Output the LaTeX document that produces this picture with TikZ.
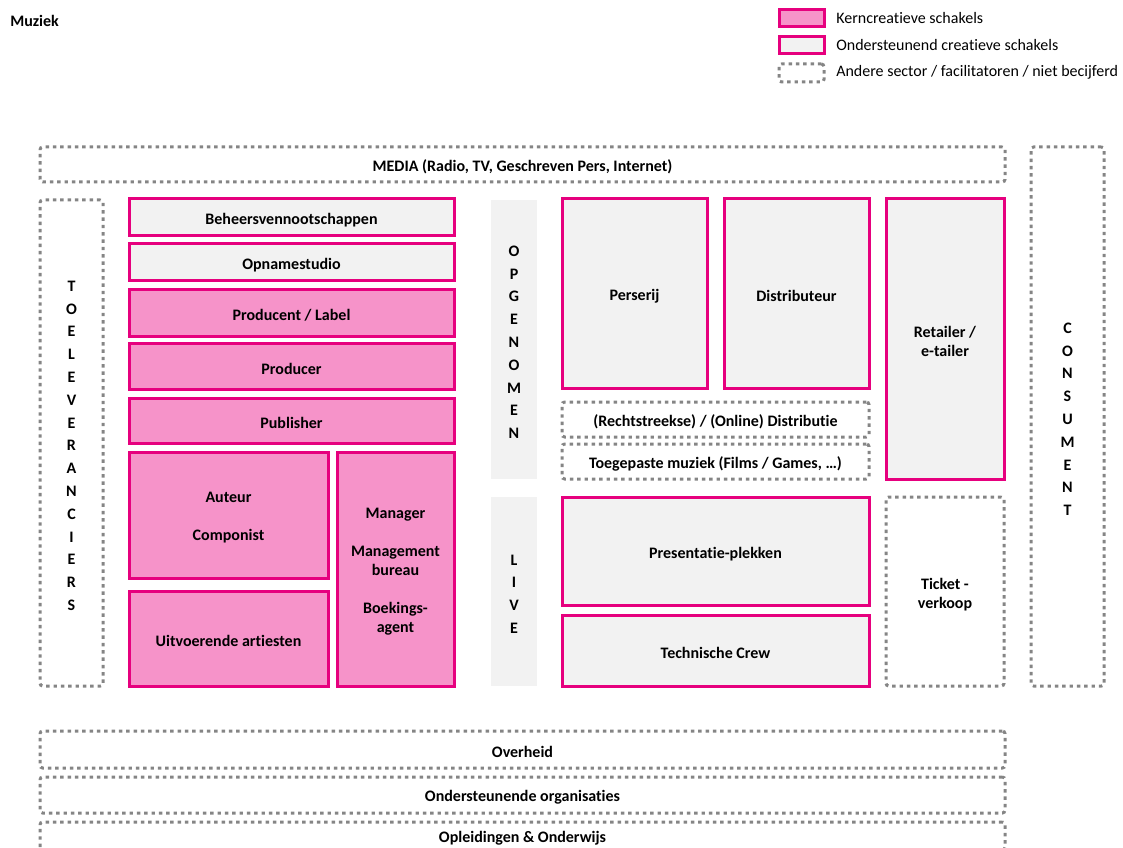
\documentclass[tikz,border=0pt]{standalone}
\usepackage{fontspec}
\setmainfont{Carlito}[Ligatures=NoCommon]
\usetikzlibrary{fit}

\definecolor{roze}{HTML}{F693C9}
\definecolor{rand}{HTML}{E6007E}
\definecolor{grijs}{HTML}{F2F2F2}
\definecolor{stip}{HTML}{858585}

\tikzset{
  blok/.style={inner sep=0pt, line width=2.25pt},
  kern/.style={blok, draw=rand, fill=roze},
  steun/.style={blok, draw=rand, fill=grijs},
  ander/.style={blok, draw=stip, dash pattern=on 2.6pt off 2.9pt, rounded corners=2pt},
  balk/.style={blok, fill=grijs},
  every label/.style={inner sep=0pt, align=center, yshift=-2pt,
    font=\bfseries\fontsize{12}{14.25}\selectfont},
  letters/.style={label={[font=\bfseries\fontsize{12}{17.1}\selectfont]center:{#1}}},
  tekst/.style={label={center:{#1}}},
  uitleg/.style={anchor=west, inner sep=0pt, font=\fontsize{12}{14}\selectfont}
}

\begin{document}
\begin{tikzpicture}[x=0.75pt, y=-0.75pt]
    \useasboundingbox (0,0) rectangle (1123,848);
    \clip (0,0) rectangle (1123,848);
    % Titel
    \node[anchor=west, inner sep=0pt, font=\bfseries\fontsize{12}{14}\selectfont] (titel) at (10,21) {Muziek};
    % Legende
    \node[kern, fit={(779,10) (824,27)}] (lkern) {};
    \node[steun, fit={(779,37) (824,54)}] (lsteun) {};
    \node[ander, fit={(779,64) (824,82)}] (lander) {};
    \node[uitleg] (tkern) at (836,18) {Kerncreatieve schakels};
    \node[uitleg] (tsteun) at (836,45) {Ondersteunend creatieve schakels};
    \node[uitleg] (tander) at (836,72) {Andere sector / facilitatoren / niet becijferd};
    % Omkadering
    \node[ander, fit={(40,147) (1005,182)}, tekst={MEDIA (Radio, TV, Geschreven Pers, Internet)}] (media) {};
    \node[ander, fit={(40,200) (103,686)}, letters={T\\O\\E\\L\\E\\V\\E\\R\\A\\N\\C\\I\\E\\R\\S}] (toelev) {};
    \node[ander, fit={(1031,147) (1104,686)}, letters={C\\O\\N\\S\\U\\M\\E\\N\\T}] (consument) {};
    % Linkerblok
    \node[steun, fit={(129,199) (454,236)}, tekst=Beheersvennootschappen] (beheer) {};
    \node[steun, fit={(129,244) (454,281)}, tekst=Opnamestudio] (opname) {};
    \node[kern, fit={(129,290) (454,336)}, tekst=Producent / Label] (label) {};
    \node[kern, fit={(129,343) (454,389)}, tekst=Producer] (producer) {};
    \node[kern, fit={(129,398) (454,443)}, tekst=Publisher] (publisher) {};
    \node[kern, fit={(129,452) (328,578)}, tekst={Auteur\\[14.25pt]Componist}] (auteur) {};
    \node[kern, fit={(129,591) (328,686)}, tekst=Uitvoerende artiesten] (artiesten) {};
    \node[kern, fit={(337,452) (454,686)},
      tekst={Manager\\[14.25pt]Management\\bureau\\[14.25pt]Boekings-\\agent}] (manager) {};
    % Balken
    \node[balk, fit={(491,200) (537,479)}, letters={O\\P\\G\\E\\N\\O\\M\\E\\N}] (opgenomen) {};
    \node[balk, fit={(491,497) (537,686)}, letters={L\\I\\V\\E}] (live) {};
    % Opgenomen
    \node[steun, fit={(562,199) (707,388)}, tekst=Perserij] (perserij) {};
    \node[steun, fit={(724,199) (869,388)}, tekst=Distributeur] (distributeur) {};
    \node[steun, fit={(886,199) (1004,479)}, tekst={Retailer /\\e-tailer}] (retailer) {};
    \node[ander, fit={(562,402) (869,437)}, tekst={(Rechtstreekse) / (Online) Distributie}] (distributie) {};
    \node[ander, fit={(562,444) (869,479)}, tekst={Toegepaste muziek (Films / Games, …)}] (toegepast) {};
    % Live
    \node[steun, fit={(562,497) (869,605)}, tekst=Presentatie-plekken] (plekken) {};
    \node[steun, fit={(562,615) (869,686)}, tekst=Technische Crew] (crew) {};
    \node[ander, fit={(886,497) (1004,686)}, tekst={Ticket -\\verkoop}] (ticket) {};
    % Onderkant
    \node[ander, fit={(40,731) (1005,768)}, tekst=Overheid] (overheid) {};
    \node[ander, fit={(40,777) (1005,813)}, tekst=Ondersteunende organisaties] (organisaties) {};
    \node[ander, fit={(40,822) (1005,850)}, tekst=Opleidingen \& Onderwijs] (onderwijs) {};
\end{tikzpicture}
\end{document}
